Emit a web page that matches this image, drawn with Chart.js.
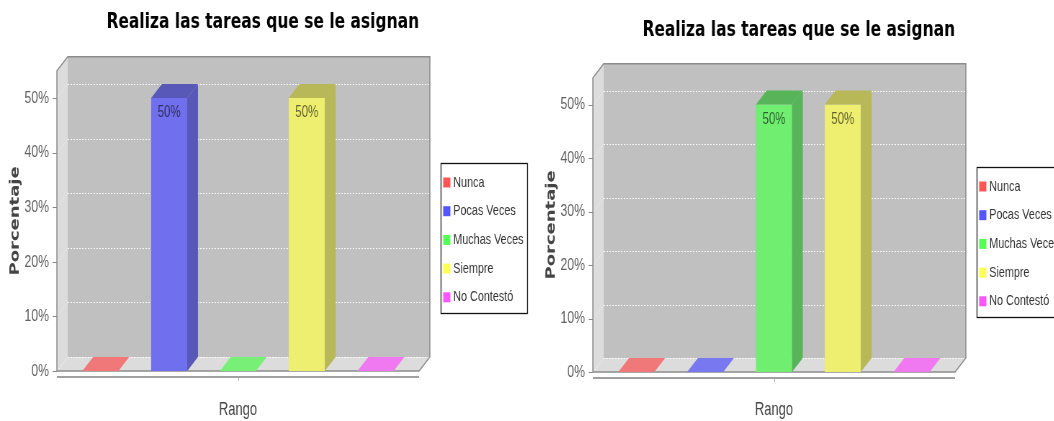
<!DOCTYPE html>
<html lang="es">
<head>
  <meta charset="UTF-8">
  <title>Realiza las tareas que se le asignan</title>
  <script src="https://cdn.jsdelivr.net/npm/chart.js"></script>
  <style>
    html, body {
      margin: 0;
      padding: 0;
      background: #fff;
    }
    #wrap {
      position: relative;
      width: 1054px;
      height: 421px;
      overflow: hidden;
    }
    /* los gráficos se dibujan anchos y se comprimen en horizontal */
    .grafico {
      position: absolute;
      top: 0;
      transform: scaleX(0.72);
      transform-origin: 0 0;
    }
    #g1 { left: 0; }
    #g2 { left: 536px; }
  </style>
</head>
<body>

  <div id="wrap">
    <canvas id="g1" class="grafico" width="740" height="421"></canvas>
    <canvas id="g2" class="grafico" width="740" height="421"></canvas>
  </div>

  <script>
    const titulo = 'Realiza las tareas que se le asignan';
    const categorias = [''];
    const series = ['Nunca', 'Pocas Veces', 'Muchas Veces', 'Siempre', 'No Contestó'];
    const valoresIzq = [0, 50, 0, 50, 0];
    const valoresDer = [0, 0, 50, 50, 0];
    const ejeYMax = 55;
    const ejeYPaso = 10;

    // colores por serie: leyenda, cara frontal, caras de sombra, huella en el piso
    const colorLeyenda = ['#ff5555', '#5555ff', '#55ff55', '#ffff55', '#ff55ff'];
    const colorFrente  = ['#ee7070', '#7070ee', '#70ee70', '#eeee70', '#ee70ee'];
    const colorSombra  = ['#b85858', '#5858b8', '#58b458', '#b8b858', '#b858b8'];
    const colorPiso    = ['#f07878', '#7878f0', '#78f078', '#f0f078', '#f078f0'];

    const DX = 15, DY = 14;   // profundidad 3D
    const fuente = "'Liberation Sans', Arial, sans-serif";
    Chart.defaults.font.family = fuente;

    function poly(ctx, pts) {
      ctx.beginPath();
      ctx.moveTo(pts[0][0], pts[0][1]);
      for (let k = 1; k < pts.length; k++) ctx.lineTo(pts[k][0], pts[k][1]);
      ctx.closePath();
    }

    const caja3d = {
      id: 'caja3d',
      beforeDatasetsDraw(chart) {
        const { ctx, chartArea: { left: L, right: R, top: T, bottom: B }, scales: { y } } = chart;
        ctx.save();
        // pared del fondo, pared izquierda y piso
        ctx.fillStyle = '#c0c0c0';
        ctx.fillRect(L + DX, T - DY, R - L, B - T);
        ctx.fillStyle = '#dcdcdc';
        poly(ctx, [[L, T], [L + DX, T - DY], [L + DX, B - DY], [L, B]]);
        ctx.fill();
        poly(ctx, [[L, B], [L + DX, B - DY], [R + DX, B - DY], [R, B]]);
        ctx.fill();

        // rejilla punteada
        ctx.lineWidth = 1;
        ctx.setLineDash([2, 2]);
        y.ticks.forEach(t => {
          const py = Math.round(y.getPixelForValue(t.value)) + 0.5;
          ctx.strokeStyle = 'rgba(255,255,255,0.9)';
          ctx.beginPath();
          ctx.moveTo(L + DX, py - DY);
          ctx.lineTo(R + DX, py - DY);
          ctx.stroke();
          ctx.strokeStyle = 'rgba(255,255,255,0.5)';
          ctx.beginPath();
          ctx.moveTo(L, py);
          ctx.lineTo(L + DX, py - DY);
          ctx.stroke();
        });
        ctx.setLineDash([]);

        // contorno de la caja
        ctx.strokeStyle = '#8c8c8c';
        ctx.lineWidth = 1.5;
        ctx.beginPath();
        ctx.moveTo(L, B);
        ctx.lineTo(L, T);
        ctx.lineTo(L + DX, T - DY);
        ctx.lineTo(R + DX, T - DY);
        ctx.lineTo(R + DX, B - DY);
        ctx.lineTo(R, B);
        ctx.closePath();
        ctx.stroke();

        // marcas del eje Y
        ctx.lineWidth = 1;
        ctx.strokeStyle = '#888';
        y.ticks.forEach(t => {
          const py = Math.round(y.getPixelForValue(t.value)) + 0.5;
          ctx.beginPath();
          ctx.moveTo(L - 6, py);
          ctx.lineTo(L, py);
          ctx.stroke();
        });

        // línea del eje X con su marca central
        ctx.strokeStyle = '#a0a0a0';
        ctx.lineWidth = 2;
        ctx.beginPath();
        ctx.moveTo(L, B + 6);
        ctx.lineTo(R, B + 6);
        ctx.stroke();
        ctx.lineWidth = 1;
        const xm = Math.round(chart.scales.x.getPixelForValue(0)) + 0.5;
        ctx.beginPath();
        ctx.moveTo(xm, B + 6);
        ctx.lineTo(xm, B + 10);
        ctx.stroke();
        ctx.restore();
      },
      afterDatasetsDraw(chart) {
        const { ctx } = chart;
        ctx.save();
        chart.data.datasets.forEach((ds, i) => {
          const meta = chart.getDatasetMeta(i);
          meta.data.forEach((bar, j) => {
            const { x, y, base, width } = bar.getProps(['x', 'y', 'base', 'width'], true);
            const x0 = x - width / 2, x1 = x + width / 2;
            const v = ds.data[j];
            if (v > 0) {
              ctx.fillStyle = colorSombra[i];
              poly(ctx, [[x1, y], [x1 + DX, y - DY], [x1 + DX, base - DY], [x1, base]]);
              ctx.fill();
              poly(ctx, [[x0, y], [x1, y], [x1 + DX, y - DY], [x0 + DX, y - DY]]);
              ctx.fill();
              ctx.fillStyle = 'rgba(0,0,0,0.6)';
              ctx.font = '16px ' + fuente;
              ctx.textAlign = 'center';
              ctx.textBaseline = 'middle';
              ctx.fillText(v + '%', x, y + 15);
            } else {
              ctx.fillStyle = colorPiso[i];
              poly(ctx, [[x0, base], [x1, base], [x1 + DX, base - DY], [x0 + DX, base - DY]]);
              ctx.fill();
            }
          });
        });
        ctx.restore();
      },
      afterDraw(chart) {
        // leyenda con recuadro
        const { ctx, chartArea: { right: R, top: T, bottom: B } } = chart;
        const lw = 120, lh = 150;
        const lx = Math.round(R + 30) + 0.5;
        const ly = Math.round((T + B) / 2 + 17 - lh / 2) + 0.5;
        ctx.save();
        ctx.fillStyle = '#fff';
        ctx.fillRect(lx, ly, lw, lh);
        ctx.strokeStyle = '#111';
        ctx.lineWidth = 1.3;
        ctx.strokeRect(lx, ly, lw, lh);
        ctx.font = '15px ' + fuente;
        ctx.textAlign = 'left';
        ctx.textBaseline = 'middle';
        chart.data.datasets.forEach((ds, i) => {
          const iy = ly + 19 + i * 28.7;
          ctx.fillStyle = colorLeyenda[i];
          ctx.fillRect(lx + 3, iy - 5, 10, 10);
          ctx.fillStyle = '#333';
          ctx.fillText(ds.label, lx + 17, iy);
        });
        ctx.restore();
      }
    };

    function crearGrafico(id, valores, tituloArriba, tituloAbajo, altoEjeX) {
      const ctx = document.getElementById(id).getContext('2d');
      return new Chart(ctx, {
        type: 'bar',
        data: {
          labels: categorias,
          datasets: series.map((s, i) => ({
            label: s,
            data: [valores[i]],
            backgroundColor: colorFrente[i],
            borderWidth: 0,
            categoryPercentage: 0.95,
            barPercentage: 0.524
          }))
        },
        options: {
          responsive: false,
          animation: false,
          layout: { padding: { left: 0, right: 158, top: 0, bottom: 0 } },
          scales: {
            x: {
              grid: { display: false, drawTicks: false },
              border: { display: false },
              ticks: { display: false },
              title: {
                display: true,
                text: 'Rango',
                color: '#444',
                font: { size: 18 },
                padding: { top: 0, bottom: 0 }
              },
              afterFit: s => { s.height = altoEjeX; }
            },
            y: {
              min: 0,
              max: ejeYMax,
              grid: { display: false, drawTicks: false },
              border: { display: false },
              ticks: {
                stepSize: ejeYPaso,
                includeBounds: false,
                padding: 11,
                color: '#606060',
                font: { size: 17 },
                callback: v => v + '%'
              },
              title: {
                display: true,
                text: 'Porcentaje',
                color: '#444',
                font: { family: "'DejaVu Sans', sans-serif", size: 18, weight: 'bold' },
                padding: { top: 11, bottom: 0 }
              },
              afterFit: s => { s.width = 79; }
            }
          },
          plugins: {
            legend: { display: false },
            tooltip: { enabled: false },
            title: {
              display: true,
              text: titulo,
              align: 'end',
              color: '#000',
              font: { family: "'DejaVu Sans', sans-serif", size: 21.5, weight: 'bold' },
              padding: { top: tituloArriba, bottom: tituloAbajo }
            }
          }
        },
        plugins: [caja3d]
      });
    }

    crearGrafico('g1', valoresIzq, 10, 35, 50);
    crearGrafico('g2', valoresDer, 17.5, 34.5, 49);
  </script>

</body>
</html>
